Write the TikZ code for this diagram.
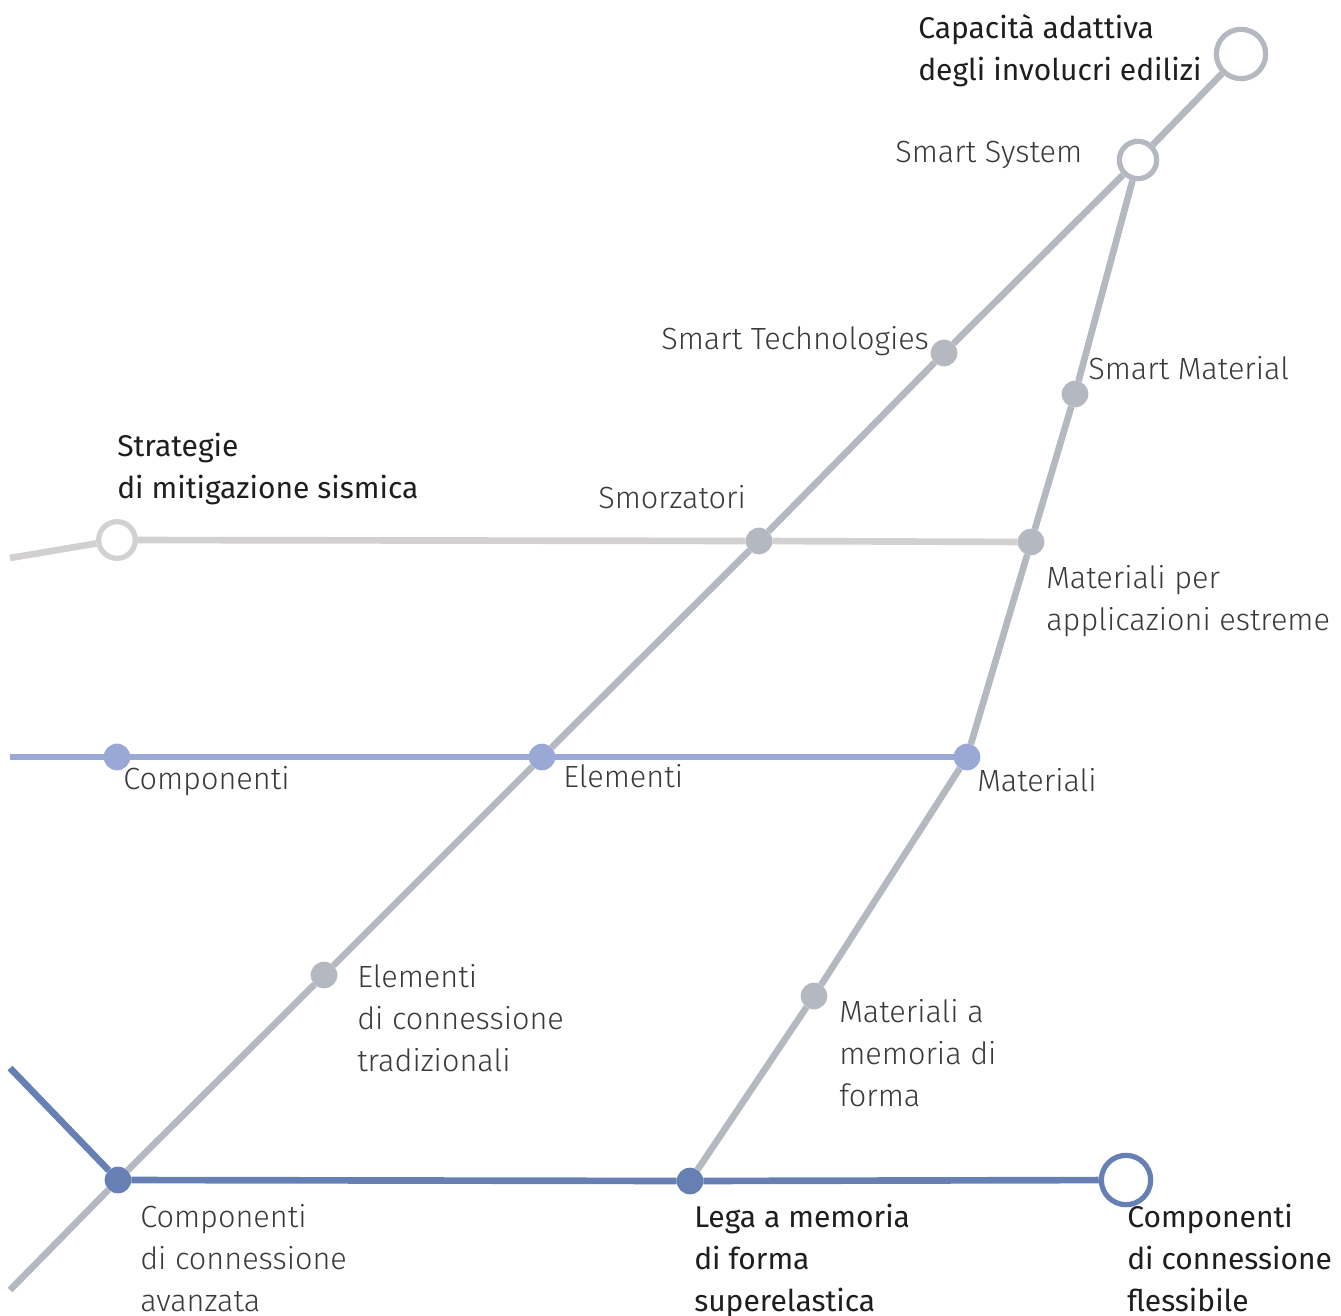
\documentclass[tikz,border=0pt]{standalone}
\usepackage{fontspec}
\setmainfont{Fira Sans Light}
\newfontfamily\headfont{Fira Sans}
\definecolor{lineGrey}{HTML}{B4B8C1}
\definecolor{paleGrey}{HTML}{D2D0D0}
\definecolor{lightBlue}{HTML}{9AA8D5}
\definecolor{darkBlue}{HTML}{6680B4}
\definecolor{txtLight}{HTML}{3A3A3A}
\definecolor{txtDark}{HTML}{1E1E1E}
\begin{document}
\begin{tikzpicture}[x=0.75pt,y=-0.75pt,
  dot/.style={circle, fill=#1, minimum size=20pt, inner sep=0pt, outer sep=0pt},
  ring/.style={circle, draw=#1, line width=3.9pt, fill=white, inner sep=0pt},
  track/.style={line width=5pt, draw=#1},
  lbl/.style={anchor=base west, align=left, inner sep=0pt, text=txtLight,
    font=\fontsize{23}{31.5}\selectfont},
  head/.style={anchor=base west, align=left, inner sep=0pt, text=txtDark,
    font=\headfont\fontsize{22.5}{31.5}\selectfont}]
\useasboundingbox (0,0) rectangle (1341,1316);

% free ends of the lines at the left edge
\coordinate (aL) at (10,1290);
\coordinate (cL) at (10,558);
\coordinate (dL) at (10,757);
\coordinate (eL) at (10,1068);

% stations
\node[ring=lineGrey, minimum size=37pt] (cap) at (1241,54) {};
\node[ring=lineGrey, minimum size=28pt] (sys) at (1138,160) {};
\node[dot=lineGrey] (tech) at (944,353) {};
\node[dot=lineGrey] (smat) at (1075,394) {};
\node[ring=paleGrey, minimum size=27.5pt] (strat) at (117,540) {};
\node[dot=lineGrey] (smorz) at (759,541) {};
\node[dot=lineGrey] (estr) at (1031,542) {};
\node[dot=lightBlue] (comp) at (117,757) {};
\node[dot=lightBlue] (elem) at (542,757) {};
\node[dot=lightBlue] (mat) at (967,757) {};
\node[dot=lineGrey] (trad) at (324,975) {};
\node[dot=lineGrey] (memo) at (814,996) {};
\node[dot=darkBlue] (avz) at (118,1180) {};
\node[dot=darkBlue] (lega) at (690,1181) {};
\node[ring=darkBlue, minimum size=37pt] (fless) at (1126,1180) {};

% lines
\draw[track=lineGrey] (aL) -- (avz) -- (trad) -- (elem) -- (smorz) -- (tech) -- (sys) -- (cap);
\draw[track=lineGrey] (sys) -- (smat) -- (estr) -- (mat) -- (memo) -- (lega);
\draw[track=paleGrey] (cL) -- (strat) -- (smorz) -- (estr);
\draw[track=lightBlue] (dL) -- (comp) -- (elem) -- (mat);
\draw[track=darkBlue] (eL) -- (avz) -- (lega) -- (fless);

% labels (base anchor sits on the last line)
\node[head] (tCap) at (918,81) {Capacità adattiva\\degli involucri edilizi};
\node[lbl] (tSys) at (895,163) {Smart System};
\node[lbl] (tTech) at (661,349) {Smart Technologies};
\node[lbl] (tSmat) at (1088,379) {Smart Material};
\node[head] (tStrat) at (117,498) {Strategie\\di mitigazione sismica};
\node[lbl] (tSmorz) at (598,508) {Smorzatori};
\node[lbl] (tEstr) at (1046,630) {Materiali per\\applicazioni estreme};
\node[lbl] (tComp) at (123,789) {Componenti};
\node[lbl] (tElem) at (563,787) {Elementi};
\node[lbl] (tMat) at (977,791) {Materiali};
\node[lbl] (tTrad) at (357,1071) {Elementi\\di connessione\\tradizionali};
\node[lbl] (tMemo) at (839,1106) {Materiali a\\memoria di\\forma};
\node[lbl] (tAvz) at (140,1311) {Componenti\\di connessione\\avanzata};
\node[head] (tLega) at (694,1311) {Lega a memoria\\di forma\\superelastica};
\node[head] (tFless) at (1127,1311) {Componenti\\di connessione\\flessibile};
\end{tikzpicture}
\end{document}
